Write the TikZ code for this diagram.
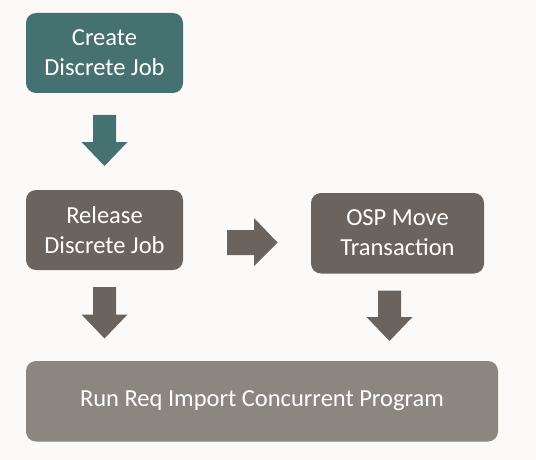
\documentclass[tikz,border=0pt]{standalone}
\usepackage{fontspec}
\setmainfont{Carlito}
\definecolor{bgc}{HTML}{FBFAF8}
\definecolor{teal}{HTML}{467171}
\definecolor{dgray}{HTML}{6B635D}
\definecolor{lgray}{HTML}{8B8680}
\begin{document}
\begin{tikzpicture}[x=1pt,y=-1pt,
  box/.style={rounded corners=10pt,text=white,align=center,font=\fontsize{24.5}{30}\selectfont}]
\fill[bgc] (0,0) rectangle (536,460);
\useasboundingbox (0,0) rectangle (536,460);
% boxes
\fill[teal,rounded corners=10pt] (26,13) rectangle (183,93);
\node[box] (create) at (104.5,53) {Create\\Discrete Job};
\fill[dgray,rounded corners=10pt] (26,190) rectangle (183,270);
\node[box] (release) at (104.5,230) {Release\\Discrete Job};
\fill[dgray,rounded corners=10pt] (311,193) rectangle (484,273.5);
\node[box] (osp) at (397.5,233) {OSP Move\\Transaction};
\fill[lgray,rounded corners=10pt] (26,361) rectangle (498,441.5);
\node[box] (run) at (262,401) {Run Req Import Concurrent Program};
% block arrows
\fill[teal] (93,115) -- (116,115) -- (116,142) -- (127.5,142) -- (104.5,166) -- (81.5,142) -- (93,142) -- cycle;
\fill[dgray] (93,287) -- (116,287) -- (116,314.5) -- (127.5,314.5) -- (104.5,338.5) -- (81.5,314.5) -- (93,314.5) -- cycle;
\fill[dgray] (378,290.5) -- (401,290.5) -- (401,317) -- (412.5,317) -- (389.5,341) -- (366.5,317) -- (378,317) -- cycle;
\fill[dgray] (227,230) -- (254,230) -- (254,218) -- (277.5,242.5) -- (254,266) -- (254,255) -- (227,255) -- cycle;
\end{tikzpicture}
\end{document}
